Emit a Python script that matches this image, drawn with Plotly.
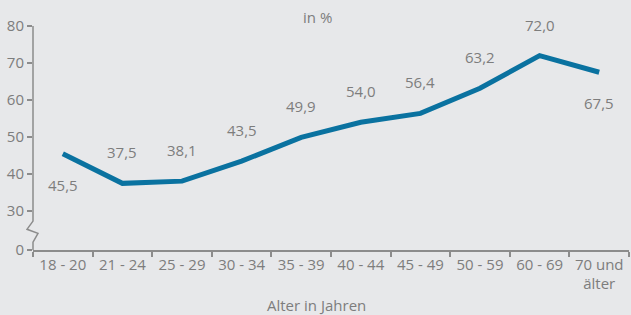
import plotly.graph_objects as go

categories = ["18 - 20", "21 - 24", "25 - 29", "30 - 34", "35 - 39",
              "40 - 44", "45 - 49", "50 - 59", "60 - 69", "70 und<br>älter"]
values = [45.5, 37.5, 38.1, 43.5, 49.9, 54.0, 56.4, 63.2, 72.0, 67.5]
label_side = ["below", "above", "above", "above", "above",
              "above", "above", "above", "above", "below"]
y_tick_labels = ["0", "30", "40", "50", "60", "70", "80"]

# axis break: the "0" baseline is drawn just below 30
BREAK_ZERO = 19.5
y_tick_vals = [BREAK_ZERO, 30, 40, 50, 60, 70, 80]

BG = "#e7e8ea"
LINE = "#0a72a0"
TXT = "#7d7d7d"
AX = "#8c8c8c"
FONT = "Open Sans"

fig = go.Figure()
fig.add_trace(go.Scatter(
    x=categories, y=values, mode="lines",
    line=dict(color=LINE, width=5),
    hoverinfo="skip", showlegend=False,
))

annotations = []
for c, v, side in zip(categories, values, label_side):
    annotations.append(dict(
        x=c, y=v, xref="x", yref="y",
        text=f"{v:.1f}".replace(".", ","),
        showarrow=False,
        yshift=31 if side == "above" else -31,
        font=dict(family=FONT, size=15, color=TXT),
    ))
annotations.append(dict(
    x=0.478, y=1.04, xref="paper", yref="paper", yanchor="middle",
    text="in %", showarrow=False,
    font=dict(family=FONT, size=15, color=TXT),
))
annotations.append(dict(
    x=0.476, y=-0.245, xref="paper", yref="paper", yanchor="middle",
    text="Alter in Jahren", showarrow=False,
    font=dict(family=FONT, size=15, color=TXT),
))

shapes = [
    # y axis line with break zigzag
    dict(type="path", xref="paper", yref="y", xsizemode="pixel", xanchor=0,
         path=f"M 0,80 L 0,27.3 L -6,25.1 L 5,24.0 L 0,21.6 L 0,{BREAK_ZERO}",
         line=dict(color=AX, width=1.5)),
]

fig.update_layout(
    width=631, height=315,
    margin=dict(l=33, r=2, t=26, b=65),
    paper_bgcolor=BG, plot_bgcolor=BG,
    font=dict(family=FONT, size=15, color=TXT),
    annotations=annotations,
    shapes=shapes,
    xaxis=dict(
        type="category", range=[-0.5, 9.5], automargin=False,
        showgrid=False, zeroline=False,
        showline=True, linecolor=AX, linewidth=1.5,
        ticks="outside", tickson="boundaries", ticklen=5, tickcolor=AX, tickwidth=1.5,
        tickfont=dict(family=FONT, size=15, color=TXT),
    ),
    yaxis=dict(
        range=[BREAK_ZERO, 80], automargin=False,
        showgrid=False, zeroline=False, showline=False,
        tickvals=y_tick_vals, ticktext=y_tick_labels,
        ticks="outside", ticklen=5, tickcolor=AX, tickwidth=1.5,
        tickfont=dict(family=FONT, size=15, color=TXT),
    ),
)

fig.write_html(
    "out.html",
    config={"displayModeBar": False},
    post_script="document.body.style.margin='0';document.body.style.overflow='hidden';",
)
